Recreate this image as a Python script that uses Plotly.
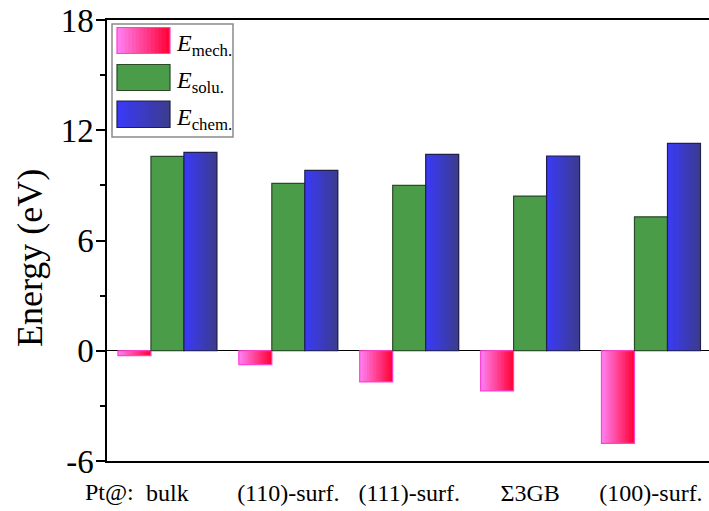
import plotly.graph_objects as go

categories = ["bulk", "(110)-surf.", "(111)-surf.", "Σ3GB", "(100)-surf."]
e_mech = [-0.26, -0.76, -1.69, -2.18, -5.04]
e_solu = [10.58, 9.11, 9.00, 8.42, 7.29]
e_chem = [10.80, 9.82, 10.69, 10.60, 11.29]
y_ticks = [-6, 0, 6, 12, 18]
y_ticktext = ["-6", "0", "6", "12", "18"]
legend_names = ["mech.", "solu.", "chem."]

W, H = 709, 511
L, R, T, B = 107, 0, 20, 50
PW, PH = W - L - R, H - T - B
FONT = "Liberation Serif"


def px(xp):
    return (xp - L) / PW


def py(yp):
    return (H - B - yp) / PH


def lerp(c1, c2, t):
    return "rgb(%d,%d,%d)" % tuple(round(a + (b - a) * t) for a, b in zip(c1, c2))


PINK = ((255, 130, 245), (255, 0, 50))
BLUE = ((58, 58, 250), (60, 60, 140))
GREEN = "#4a9c48"
bw = 0.273
offsets = [-1.5 * bw, -0.5 * bw, 0.5 * bw]
N = 14

fig = go.Figure()


def grad_bar(vals, off, cols, edge):
    for i in range(N):
        w = bw * (N - i) / N
        fig.add_trace(go.Bar(
            x=categories, y=vals, offset=off + bw - w, width=w,
            marker=dict(color=lerp(cols[0], cols[1], (i + 0.5) / N), line=dict(width=0)),
            showlegend=False, hoverinfo="skip"))
    fig.add_trace(go.Bar(
        x=categories, y=vals, offset=off, width=bw,
        marker=dict(color="rgba(0,0,0,0)", line=dict(color=edge, width=1.2)),
        showlegend=False))


grad_bar(e_mech, offsets[0], PINK, "#ff40d0")
fig.add_trace(go.Bar(x=categories, y=e_solu, offset=offsets[1], width=bw,
                     marker=dict(color=GREEN, line=dict(color="#2a4a2a", width=1.2)),
                     showlegend=False))
grad_bar(e_chem, offsets[2], BLUE, "#20204a")

# manual legend
shapes = [dict(type="rect", xref="paper", yref="paper",
               x0=px(112), x1=px(233), y0=py(137), y1=py(24),
               line=dict(color="#8a8a8a", width=1.5), fillcolor="white", layer="above")]
sw_rows = [(27.5, 53.5), (64.5, 90.5), (101, 127.5)]
sw_fill = [PINK, None, BLUE]
sw_edge = ["#ff40d0", "#2a4a2a", "#20204a"]
annotations = []
for k, (y0, y1) in enumerate(sw_rows):
    x0, x1 = 117, 170
    if sw_fill[k] is None:
        shapes.append(dict(type="rect", xref="paper", yref="paper", x0=px(x0), x1=px(x1),
                           y0=py(y1), y1=py(y0), fillcolor=GREEN, line=dict(width=0), layer="above"))
    else:
        n = 14
        for i in range(n):
            xs = x0 + (x1 - x0) * i / n
            shapes.append(dict(type="rect", xref="paper", yref="paper",
                               x0=px(xs), x1=px(x1),
                               y0=py(y1), y1=py(y0),
                               fillcolor=lerp(sw_fill[k][0], sw_fill[k][1], (i + 0.5) / n),
                               line=dict(width=0), layer="above"))
    shapes.append(dict(type="rect", xref="paper", yref="paper", x0=px(x0), x1=px(x1),
                       y0=py(y1), y1=py(y0), line=dict(color=sw_edge[k], width=1.2), layer="above"))
    annotations.append(dict(xref="paper", yref="paper", x=px(174), y=py((y0 + y1) / 2 + 5),
                            xanchor="left", yanchor="middle", showarrow=False,
                            text="<i>E</i><sub>" + legend_names[k] + "</sub>",
                            font=dict(family=FONT, size=24, color="black")))

annotations.append(dict(xref="paper", yref="paper", x=px(83), y=py(492), xanchor="left",
                        yanchor="middle", showarrow=False, text="Pt@:",
                        font=dict(family=FONT, size=24, color="black")))
annotations.append(dict(xref="paper", yref="paper", x=px(30), y=py(258), xanchor="center",
                        yanchor="middle", showarrow=False, text="Energy (eV)", textangle=-90,
                        font=dict(family=FONT, size=36, color="black")))

fig.update_layout(
    width=W, height=H, margin=dict(l=L, r=R, t=T, b=B, autoexpand=False),
    paper_bgcolor="white", plot_bgcolor="white", barmode="overlay",
    font=dict(family=FONT, color="black"),
    shapes=shapes, annotations=annotations, showlegend=False,
    xaxis=dict(type="category", range=[-0.5, 4.48], showline=True, linecolor="black",
               linewidth=1.5, mirror=True, ticks="", showgrid=False,
               tickfont=dict(family=FONT, size=24), ticklabelstandoff=9),
    yaxis=dict(range=[-6, 18], tickvals=y_ticks, ticktext=y_ticktext, showline=True,
               linecolor="black", linewidth=1.5, ticks="outside", ticklen=9, tickwidth=1.5,
               tickcolor="black",
               minor=dict(dtick=3, ticks="outside", ticklen=5, tickwidth=1.5, tickcolor="black"),
               showgrid=False, zeroline=True, zerolinecolor="black", zerolinewidth=1.2,
               tickfont=dict(family=FONT, size=33), ticklabelstandoff=-4),
)

fig.write_html("out.html")
